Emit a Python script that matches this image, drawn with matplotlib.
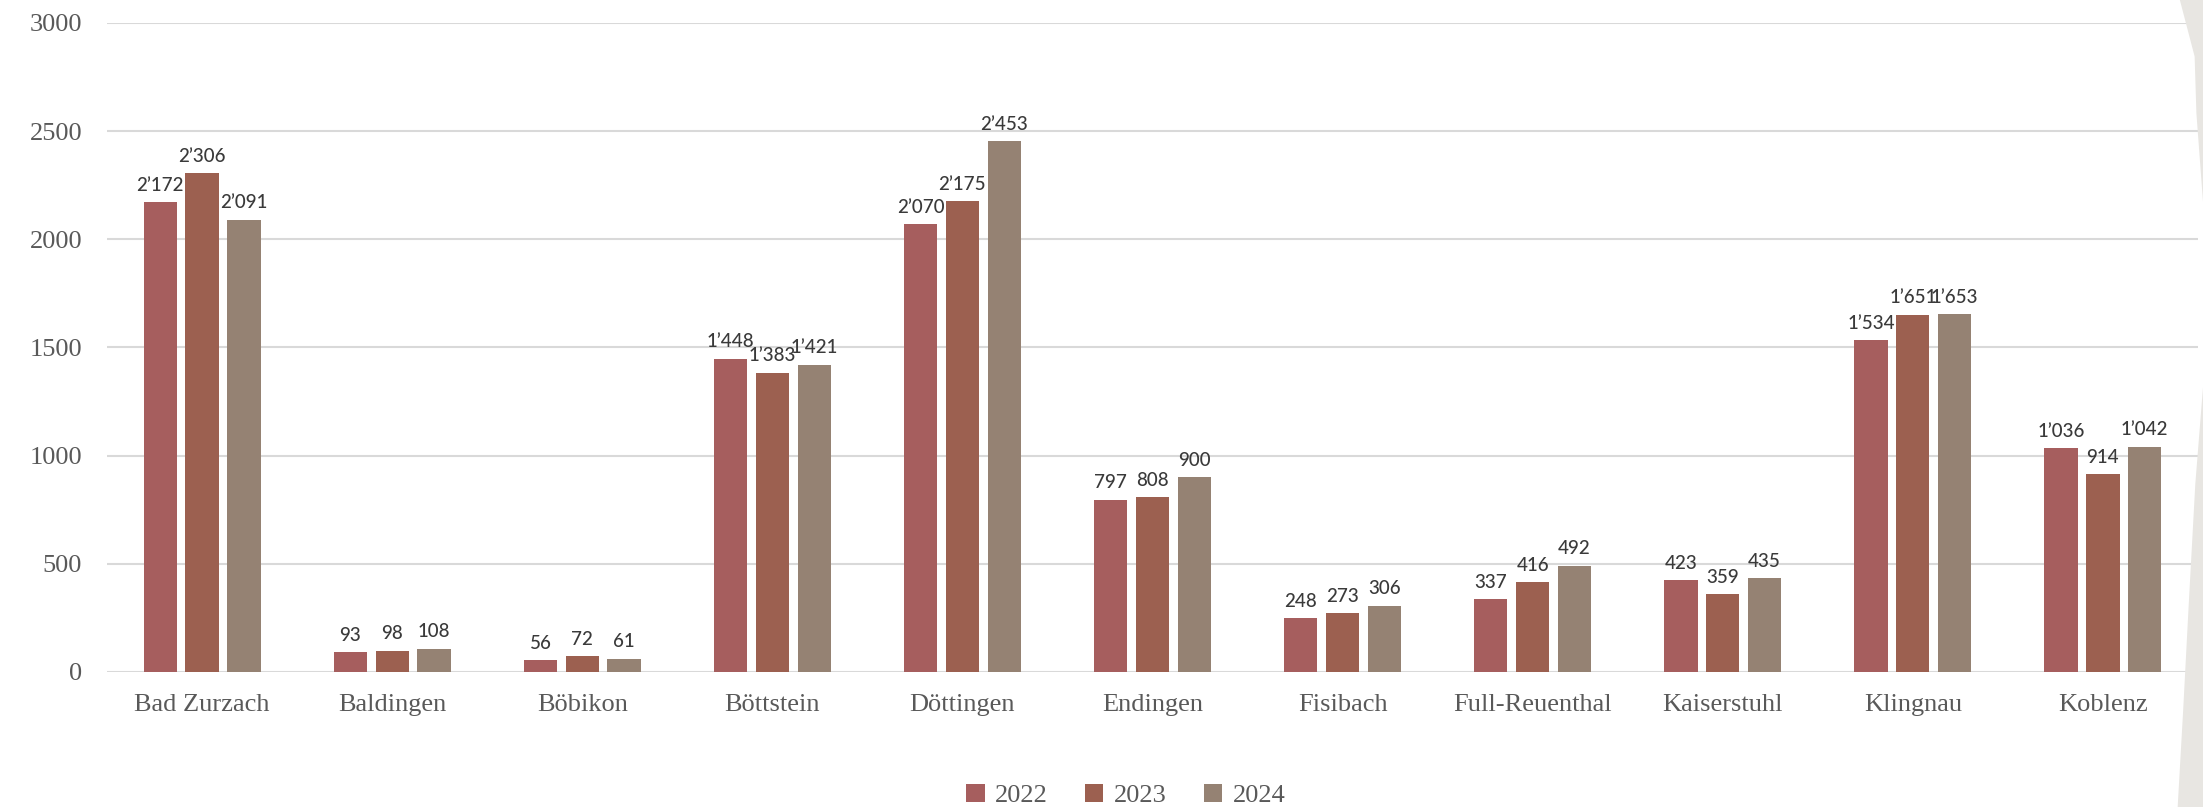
import numpy as np
import matplotlib.pyplot as plt
from matplotlib.patches import Polygon


municipalities = ["Bad Zurzach", "Baldingen", "Böbikon", "Böttstein", "Döttingen",
                  "Endingen", "Fisibach", "Full-Reuenthal", "Kaiserstuhl",
                  "Klingnau", "Koblenz"]
years = ["2022", "2023", "2024"]
values_2022 = [2172, 93, 56, 1448, 2070, 797, 248, 337, 423, 1534, 1036]
values_2023 = [2306, 98, 72, 1383, 2175, 808, 273, 416, 359, 1651, 914]
values_2024 = [2091, 108, 61, 1421, 2453, 900, 306, 492, 435, 1653, 1042]
yticks = [0, 500, 1000, 1500, 2000, 2500, 3000]

colors = ["#A65E5E", "#9C6050", "#958273"]
serif = ["Liberation Serif", "DejaVu Serif"]


def fmt(v):
    # swiss style thousands separator
    return f"{v:,}".replace(",", "\u2019")


fig = plt.figure(figsize=(22.03, 8.07), dpi=100)

# light torn-paper decoration on the right edge
fig.patches.append(Polygon([[0.9895, 1.0], [1.0, 1.0], [1.0, 0.75], [0.997, 0.86], [0.9962, 0.93]],
                           closed=True, transform=fig.transFigure, facecolor="#E8E6E2",
                           edgecolor="none", zorder=0))
fig.patches.append(Polygon([[1.0, 0.52], [1.0, 0.0], [0.9885, 0.0], [0.991, 0.12],
                            [0.9935, 0.25], [0.9965, 0.4]],
                           closed=True, transform=fig.transFigure, facecolor="#E8E6E2",
                           edgecolor="none", zorder=0))

ax = fig.add_axes([0.0486, 0.1673, 0.9491, 0.8042])
ax.set_facecolor("none")

x = np.arange(len(municipalities))
step = 0.22
width = 0.175
series = [values_2022, values_2023, values_2024]

for i, (vals, year, color) in enumerate(zip(series, years, colors)):
    pos = x + (i - 1) * step
    ax.bar(pos, vals, width=width, color=color, label=year, zorder=3)
    for px, v in zip(pos, vals):
        ax.annotate(fmt(v), (px, v), xytext=(0, 6), textcoords="offset points",
                    ha="center", va="bottom", fontsize=13.5, color="#3A3A3A",
                    family=["Lato", "DejaVu Sans"], fontweight="medium")

ax.set_xlim(-0.5, len(municipalities) - 0.5)
ax.set_ylim(0, 3000)
ax.set_yticks(yticks)
ax.set_xticks(x)
ax.set_xticklabels(municipalities)

ax.yaxis.grid(True, color="#D9D9D9", linewidth=1.5, zorder=0)
ax.set_axisbelow(True)
for s in ax.spines.values():
    s.set_visible(False)
ax.tick_params(length=0, labelsize=19, labelcolor="#595959")
ax.tick_params(axis="y", pad=18)
ax.tick_params(axis="x", pad=16)
for lab in ax.get_xticklabels() + ax.get_yticklabels():
    lab.set_family(serif)

leg = fig.legend(loc="center", bbox_to_anchor=(0.511, 0.014), ncol=3, frameon=False,
                 prop={"family": serif, "size": 19}, handlelength=0.7, handleheight=0.7,
                 handletextpad=0.4, columnspacing=1.4)
for t in leg.get_texts():
    t.set_color("#595959")

fig.savefig("out.png", dpi=100)
